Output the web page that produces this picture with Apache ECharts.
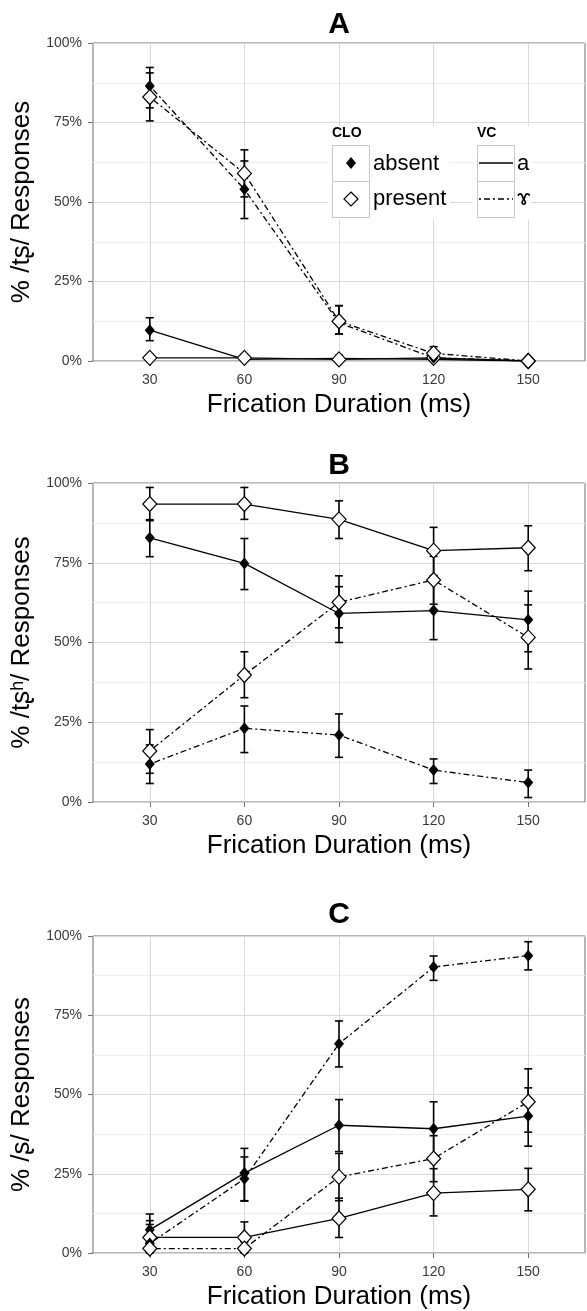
<!DOCTYPE html>
<html><head><meta charset="utf-8">
<script src="https://cdn.jsdelivr.net/npm/echarts@6/dist/echarts.min.js"></script>
<style>html,body{margin:0;padding:0;background:#fff}#c{width:587px;height:1311px}</style>
</head><body><div id="c"></div>
<script>
// ---------- data ----------
const durations = [30, 60, 90, 120, 150];
const panelTitles = ['A', 'B', 'C'];
const yTitles = ['% /tʂ/ Responses', '% /tʂʰ/ Responses', '% /ʂ/ Responses'];
const xTitle = 'Frication Duration (ms)';
const cloLabels = ['absent', 'present'];
const vcLabels = ['a', 'ɤ'];

// Panel A
const A_absent_a = [9.7, 0.5, 0.8, 0.5, 0];
const A_absent_a_lo = [6.4, 0, 0, 0, 0];
const A_absent_a_hi = [13.6, 1.3, 1.8, 1.3, 0];
const A_present_a = [1.0, 1.0, 0.5, 1.0, 0];
const A_present_a_lo = [0, 0, 0, 0, 0];
const A_present_a_hi = [2.0, 2.0, 1.2, 2.0, 0];
const A_absent_g = [86.5, 54, 12, 1, 0];
const A_absent_g_lo = [79.6, 44.8, 8.5, 0, 0];
const A_absent_g_hi = [92.3, 62.9, 17.4, 2, 0];
const A_present_g = [83, 59, 12.5, 2.4, 0];
const A_present_g_lo = [75.5, 51.6, 8.5, 0.5, 0];
const A_present_g_hi = [90.6, 66.4, 17.4, 4.5, 0];

// Panel B
const B_present_a = [93.4, 93.4, 88.6, 78.8, 79.7];
const B_present_a_lo = [88.2, 88.6, 82.6, 71.0, 72.5];
const B_present_a_hi = [98.6, 98.6, 94.4, 86.1, 86.6];
const B_absent_a = [82.8, 74.8, 59.1, 60.0, 57.1];
const B_absent_a_lo = [76.9, 66.6, 50.0, 50.9, 47.1];
const B_absent_a_hi = [88.5, 82.6, 67.5, 69.0, 66.1];
const B_present_g = [16.0, 39.8, 62.6, 69.6, 51.6];
const B_present_g_lo = [9.0, 32.7, 54.6, 62.0, 41.7];
const B_present_g_hi = [22.7, 47.1, 70.9, 77.0, 61.8];
const B_absent_g = [11.9, 23.1, 21.0, 10.0, 6.1];
const B_absent_g_lo = [5.8, 15.5, 14.0, 5.8, 1.4];
const B_absent_g_hi = [17.9, 30.1, 27.6, 13.5, 10.0];

// Panel C
const C_absent_g = [3.0, 23.4, 66.0, 90.2, 93.8];
const C_absent_g_lo = [0.5, 16.5, 58.7, 86.0, 89.3];
const C_absent_g_hi = [10.2, 30.3, 73.2, 93.7, 98.2];
const C_absent_a = [7.3, 25.2, 40.3, 39.2, 43.2];
const C_absent_a_lo = [3.5, 16.4, 32.0, 30.5, 33.7];
const C_absent_a_hi = [12.3, 33.0, 48.4, 47.7, 52.1];
const C_present_g = [1.4, 1.4, 24.0, 29.8, 47.7];
const C_present_g_lo = [0, 0, 16.5, 22.5, 38.1];
const C_present_g_hi = [3.5, 3.5, 31.4, 37.0, 58.1];
const C_present_a = [4.9, 4.9, 10.9, 18.9, 20.1];
const C_present_a_lo = [1.5, 1.5, 4.9, 11.7, 13.3];
const C_present_a_hi = [9.0, 9.8, 17.3, 26.6, 26.7];

// ---------- build ----------
const FONT = '"Liberation Sans", Arial, Helvetica, sans-serif';
const DASH = [2, 3, 6, 3];
const panels = [
  [
    {v: A_absent_a, lo: A_absent_a_lo, hi: A_absent_a_hi, filled: true, dashed: false},
    {v: A_present_a, lo: A_present_a_lo, hi: A_present_a_hi, filled: false, dashed: false},
    {v: A_absent_g, lo: A_absent_g_lo, hi: A_absent_g_hi, filled: true, dashed: true},
    {v: A_present_g, lo: A_present_g_lo, hi: A_present_g_hi, filled: false, dashed: true}
  ],
  [
    {v: B_absent_a, lo: B_absent_a_lo, hi: B_absent_a_hi, filled: true, dashed: false},
    {v: B_present_a, lo: B_present_a_lo, hi: B_present_a_hi, filled: false, dashed: false},
    {v: B_absent_g, lo: B_absent_g_lo, hi: B_absent_g_hi, filled: true, dashed: true},
    {v: B_present_g, lo: B_present_g_lo, hi: B_present_g_hi, filled: false, dashed: true}
  ],
  [
    {v: C_absent_a, lo: C_absent_a_lo, hi: C_absent_a_hi, filled: true, dashed: false},
    {v: C_present_a, lo: C_present_a_lo, hi: C_present_a_hi, filled: false, dashed: false},
    {v: C_absent_g, lo: C_absent_g_lo, hi: C_absent_g_hi, filled: true, dashed: true},
    {v: C_present_g, lo: C_present_g_lo, hi: C_present_g_hi, filled: false, dashed: true}
  ]
];

const gridBoxes = [
  {left: 93, top: 43, width: 492, height: 318},
  {left: 93, top: 483, width: 492, height: 319},
  {left: 93, top: 936, width: 492, height: 318}
];
const titleY = [25, 466, 915];

function errRender(params, api) {
  const x = api.value(0), lo = api.value(1), hi = api.value(2);
  if (hi - lo < 0.01) return null;
  const p1 = api.coord([x, lo]), p2 = api.coord([x, hi]);
  const hw = 4;
  const st = {stroke: '#000', lineWidth: 1.6};
  return {type: 'group', children: [
    {type: 'line', shape: {x1: p1[0], y1: p1[1], x2: p2[0], y2: p2[1]}, style: st},
    {type: 'line', shape: {x1: p1[0] - hw, y1: p1[1], x2: p1[0] + hw, y2: p1[1]}, style: st},
    {type: 'line', shape: {x1: p2[0] - hw, y1: p2[1], x2: p2[0] + hw, y2: p2[1]}, style: st}
  ]};
}

const grid = [], xAxis = [], yAxis = [], series = [], graphic = [];
panels.forEach((sets, idx) => {
  const g = gridBoxes[idx];
  grid.push(Object.assign({show: true, borderColor: '#6e6e6e', borderWidth: 1, backgroundColor: '#fff'}, g));
  xAxis.push({
    type: 'value', gridIndex: idx, min: 12, max: 168,
    axisLine: {show: false},
    axisTick: {show: true, length: 5, lineStyle: {color: '#6e6e6e'}, customValues: durations},
    axisLabel: {customValues: durations, fontSize: 14, color: '#3a3a3a', margin: 12, fontFamily: FONT},
    splitLine: {show: true, lineStyle: {color: '#d9d9d9', width: 1}},
    name: xTitle, nameLocation: 'middle', nameGap: 31,
    nameTextStyle: {fontSize: 26, color: '#000', fontFamily: FONT}
  });
  yAxis.push({
    type: 'value', gridIndex: idx, min: 0, max: 100, interval: 25,
    axisLine: {show: false},
    axisTick: {show: true, length: 5, lineStyle: {color: '#6e6e6e'}},
    axisLabel: {formatter: '{value}%', fontSize: 14, color: '#3a3a3a', margin: 11, fontFamily: FONT},
    splitLine: {show: true, lineStyle: {color: '#d9d9d9', width: 1}},
    minorTick: {show: false, splitNumber: 2},
    minorSplitLine: {show: true, lineStyle: {color: '#efefef', width: 1}},
    name: yTitles[idx], nameLocation: 'middle', nameGap: 55, nameRotate: 90,
    nameTextStyle: {fontSize: 26, color: '#000', fontFamily: FONT}
  });
  sets.forEach(s => series.push({
    type: 'custom', xAxisIndex: idx, yAxisIndex: idx, z: 2, silent: true,
    renderItem: errRender, encode: {x: 0, y: [1, 2]},
    data: durations.map((d, i) => [d, s.lo[i], s.hi[i]])
  }));
  sets.forEach(s => series.push({
    type: 'line', xAxisIndex: idx, yAxisIndex: idx, z: 3, silent: true, symbol: 'none',
    lineStyle: {color: '#000', width: 1.3, type: s.dashed ? DASH : 'solid'},
    data: durations.map((d, i) => [d, s.v[i]])
  }));
  sets.forEach(s => series.push({
    type: 'scatter', xAxisIndex: idx, yAxisIndex: idx, z: 4, silent: true, symbol: 'diamond',
    symbolSize: s.filled ? [10, 12] : [14, 15],
    itemStyle: s.filled ? {color: '#000', opacity: 1} : {color: '#fff', borderColor: '#000', borderWidth: 1.2, opacity: 1},
    data: durations.map((d, i) => [d, s.v[i]])
  }));
  graphic.push({type: 'text', x: g.left + g.width / 2, y: titleY[idx], z: 10,
    style: {text: panelTitles[idx], font: 'bold 30px ' + FONT, fill: '#000', textAlign: 'center', textVerticalAlign: 'middle'}});
});

// legend (panel A)
graphic.push(
  {type: 'rect', shape: {x: 328, y: 126, width: 122, height: 94}, style: {fill: '#fff'}, z: 20},
  {type: 'rect', shape: {x: 473, y: 126, width: 58, height: 94}, style: {fill: '#fff'}, z: 20},
  {type: 'text', x: 332, y: 133, z: 21, style: {text: 'CLO', font: 'bold 14px ' + FONT, fill: '#000', textVerticalAlign: 'middle'}},
  {type: 'text', x: 477, y: 133, z: 21, style: {text: 'VC', font: 'bold 14px ' + FONT, fill: '#000', textVerticalAlign: 'middle'}},
  {type: 'rect', shape: {x: 332.5, y: 145.5, width: 37, height: 36}, style: {fill: '#fff', stroke: '#c8c8c8', lineWidth: 1}, z: 21},
  {type: 'rect', shape: {x: 332.5, y: 181.5, width: 37, height: 36}, style: {fill: '#fff', stroke: '#c8c8c8', lineWidth: 1}, z: 21},
  {type: 'rect', shape: {x: 477.5, y: 145.5, width: 37, height: 36}, style: {fill: '#fff', stroke: '#c8c8c8', lineWidth: 1}, z: 21},
  {type: 'rect', shape: {x: 477.5, y: 181.5, width: 37, height: 36}, style: {fill: '#fff', stroke: '#c8c8c8', lineWidth: 1}, z: 21},
  {type: 'polygon', shape: {points: [[351, 157], [356, 163], [351, 169], [346, 163]]}, style: {fill: '#000'}, z: 22},
  {type: 'polygon', shape: {points: [[351, 192], [358, 199], [351, 206], [344, 199]]}, style: {fill: '#fff', stroke: '#000', lineWidth: 1.2}, z: 22},
  {type: 'line', shape: {x1: 479, y1: 163, x2: 513, y2: 163}, style: {stroke: '#000', lineWidth: 1.3}, z: 22},
  {type: 'line', shape: {x1: 479, y1: 199, x2: 513, y2: 199}, style: {stroke: '#000', lineWidth: 1.3, lineDash: DASH}, z: 22},
  {type: 'text', x: 373, y: 164, z: 22, style: {text: cloLabels[0], font: '22px ' + FONT, fill: '#000', textVerticalAlign: 'middle'}},
  {type: 'text', x: 373, y: 199, z: 22, style: {text: cloLabels[1], font: '22px ' + FONT, fill: '#000', textVerticalAlign: 'middle'}},
  {type: 'text', x: 517, y: 164, z: 22, style: {text: vcLabels[0], font: '22px ' + FONT, fill: '#000', textVerticalAlign: 'middle'}},
  {type: 'text', x: 517, y: 199, z: 22, style: {text: vcLabels[1], font: '22px ' + FONT, fill: '#000', textVerticalAlign: 'middle'}}
);

const chart = echarts.init(document.getElementById('c'), null, {renderer: 'canvas'});
chart.setOption({
  animation: false,
  backgroundColor: '#fff',
  textStyle: {fontFamily: FONT},
  grid, xAxis, yAxis, series, graphic
});
</script></body></html>
